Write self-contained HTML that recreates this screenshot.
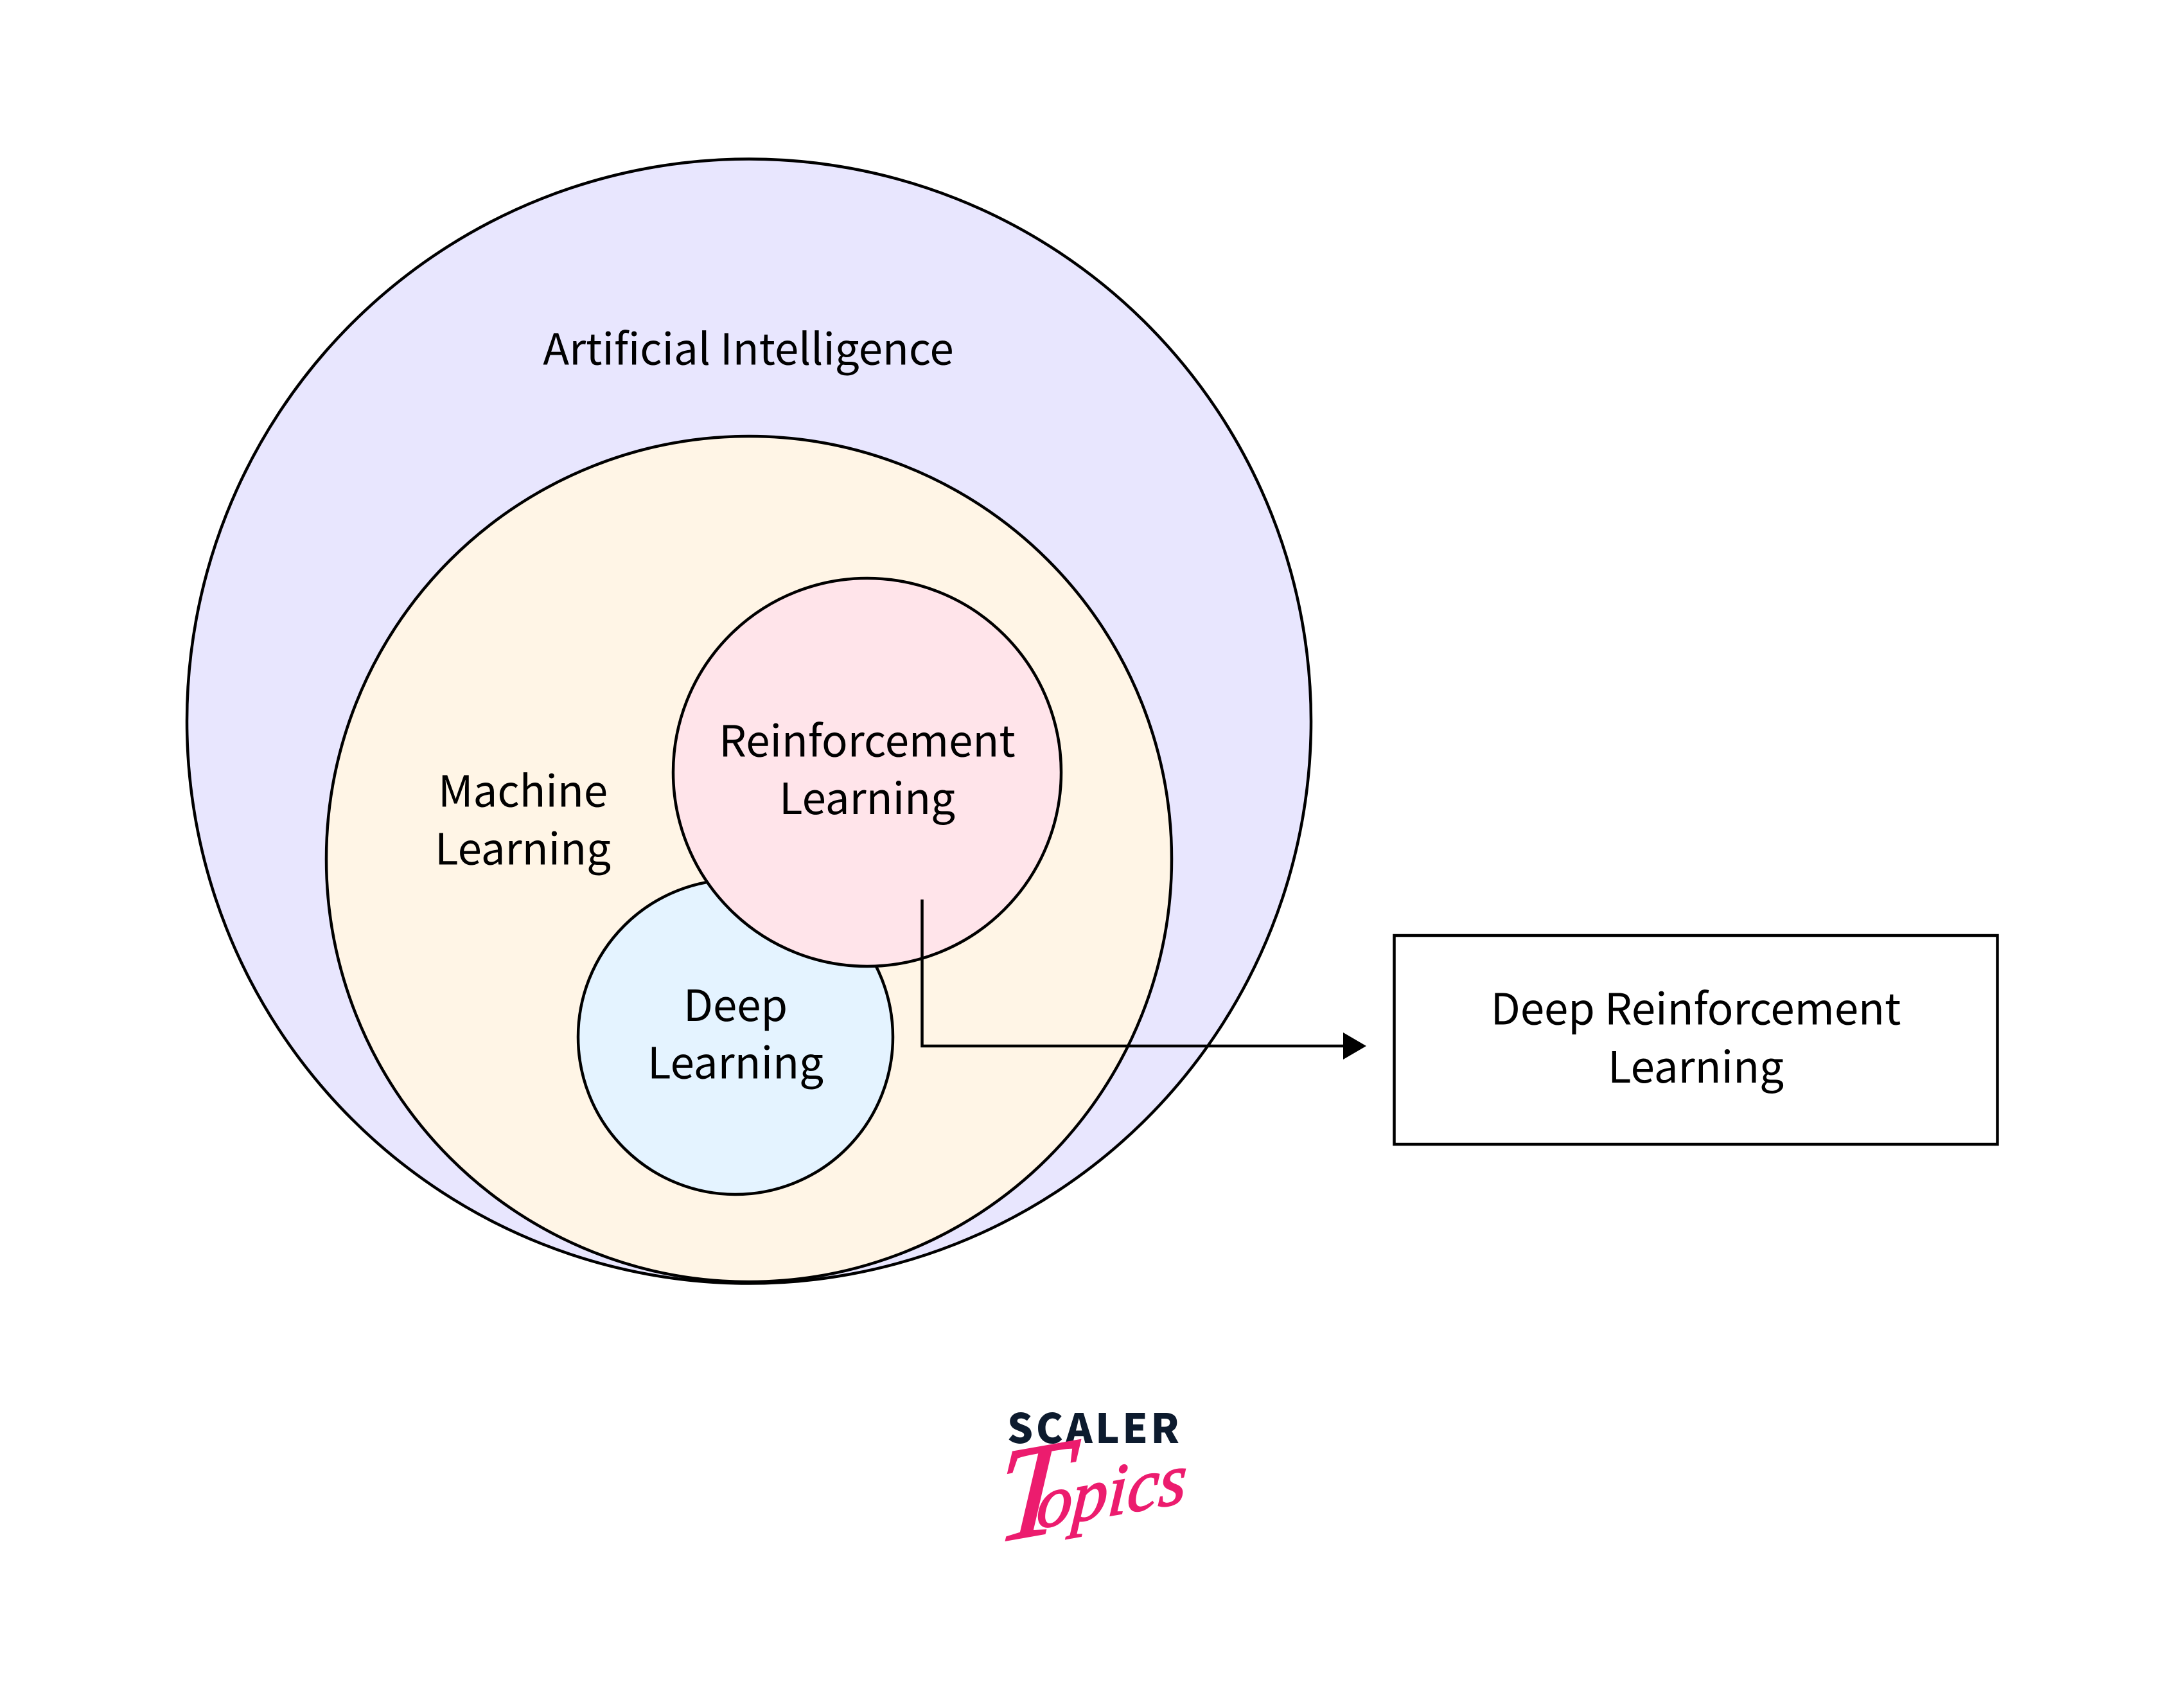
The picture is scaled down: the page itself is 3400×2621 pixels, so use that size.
<!DOCTYPE html>
<html><head><meta charset="utf-8"><style>html,body{margin:0;padding:0;background:#fff}svg{display:block}
.t{font-family:"Noto Sans CJK JP","Liberation Sans",sans-serif;font-size:67.2px;fill:#000;text-anchor:middle}
</style></head><body>
<svg width="3400" height="2621" viewBox="0 0 3400 2621" xmlns="http://www.w3.org/2000/svg">
<rect width="3400" height="2621" fill="#fff"/>
<g stroke="#000" stroke-width="4.5">
<circle cx="1166" cy="1122.5" r="875" fill="#e8e6fe"/>
<circle cx="1166" cy="1337" r="658" fill="#fff5e6"/>
<circle cx="1145" cy="1614" r="245" fill="#e4f3ff"/>
<circle cx="1350" cy="1202" r="302" fill="#ffe4ea"/>
<rect x="2170.5" y="1456" width="939" height="325" fill="#fff"/>
<path d="M1435.5 1400V1628H2095" fill="none"/>
</g>
<path d="M2091 1607L2127 1628L2091 1649Z" fill="#000"/>
<text class="t" x="1165" y="567.5">Artificial Intelligence</text>
<text class="t" x="814" y="1255.5">Machine</text>
<text class="t" x="814" y="1345.5">Learning</text>
<text class="t" x="1350" y="1177.5">Reinforcement</text>
<text class="t" x="1350" y="1267">Learning</text>
<text class="t" x="1145" y="1589">Deep</text>
<text class="t" x="1145" y="1678.5">Learning</text>
<text class="t" x="2640" y="1594.5">Deep Reinforcement</text>
<text class="t" x="2640" y="1685">Learning</text>
<text x="1568" y="2246" font-weight="900" font-size="63" fill="#0d1b2e" textLength="268" style="font-family:'Noto Sans CJK JP','Liberation Sans',sans-serif">SCALER</text>
<text transform="translate(1620 2378) rotate(-10) skewX(-14)" font-style="italic" fill="#ec1c6e" stroke="#ec1c6e" stroke-width="2" style="font-family:'Liberation Serif',serif"><tspan x="-72" y="10" font-size="205">T</tspan><tspan x="-8" y="0" font-size="112">opics</tspan></text>
</svg>
</body></html>
